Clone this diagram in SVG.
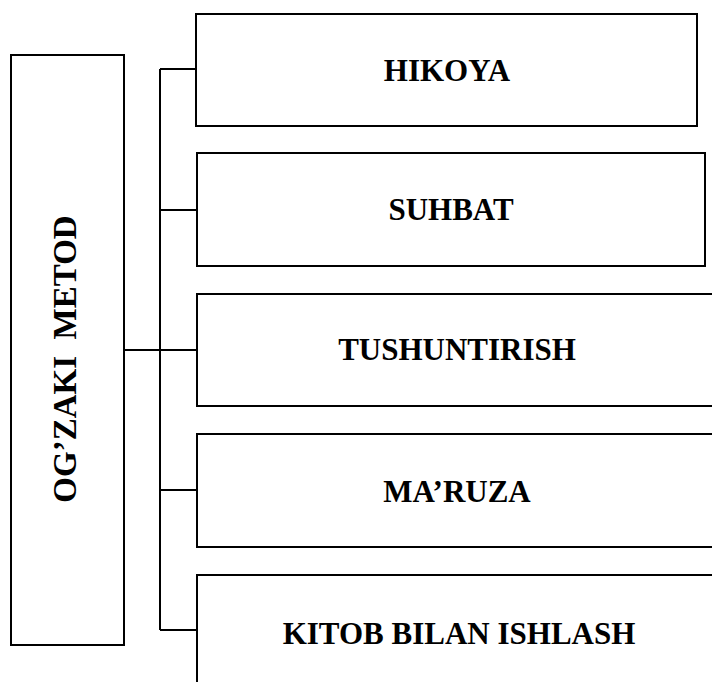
<svg xmlns="http://www.w3.org/2000/svg" width="712" height="682" viewBox="0 0 712 682">
<style>
.box{fill:#fff;stroke:#000;stroke-width:2}
.ln{stroke:#000;stroke-width:2;fill:none}
.t{font-family:"Liberation Serif","Times New Roman",serif;font-weight:bold;font-size:31px;fill:#000;text-anchor:middle}
</style>
<rect width="712" height="682" fill="#fff"/>
<g id="connectors">
<path class="ln" d="M160 69V630M160 69H196M160 210H197M124 350H197M160 490H197M160 630H197"/>
</g>
<g id="root">
<rect class="box" x="11" y="55" width="113" height="590"/>
<text class="t" transform="translate(76 359) rotate(-90)" style="font-size:33px">OG’ZAKI&#160; METOD</text>
</g>
<g id="n1">
<rect class="box" x="196" y="14" width="501" height="112"/>
<text class="t" x="447" y="81">HIKOYA</text>
</g>
<g id="n2">
<rect class="box" x="197" y="153" width="508" height="113"/>
<text class="t" x="451" y="220">SUHBAT</text>
</g>
<g id="n3">
<rect class="box" x="197" y="294" width="530" height="112"/>
<text class="t" x="457" y="360">TUSHUNTIRISH</text>
</g>
<g id="n4">
<rect class="box" x="197" y="434" width="530" height="113"/>
<text class="t" x="457" y="502">MA’RUZA</text>
</g>
<g id="n5">
<rect class="box" x="197" y="575" width="530" height="120"/>
<text class="t" x="459" y="644">KITOB BILAN ISHLASH</text>
</g>
</svg>
